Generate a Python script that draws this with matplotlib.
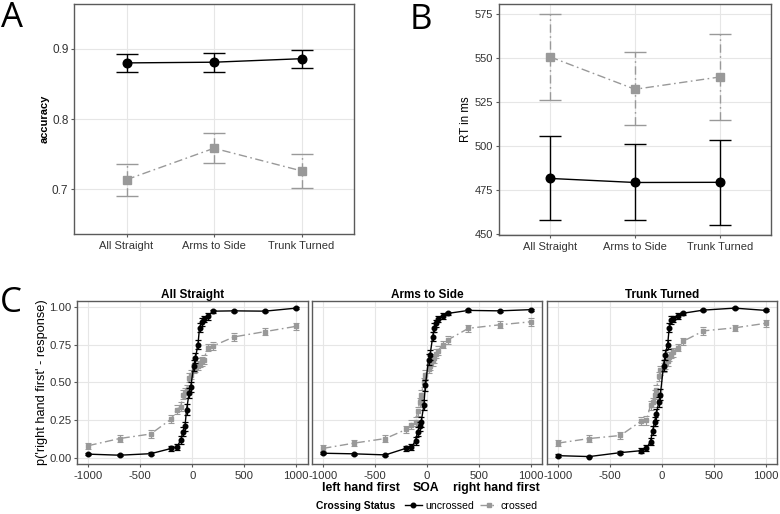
import matplotlib
matplotlib.use("Agg")
import matplotlib.pyplot as plt
from matplotlib.lines import Line2D
import numpy as np

plt.rcParams['font.family'] = ['Liberation Sans', 'DejaVu Sans']

# ---------------- data ----------------
conditions = ["All Straight", "Arms to Side", "Trunk Turned"]

# Panel A: accuracy
acc_unc = [0.880, 0.881, 0.886]
acc_unc_lo = [0.8665, 0.867, 0.8726]
acc_unc_hi = [0.892, 0.8935, 0.8986]
acc_cro = [0.7135, 0.7583, 0.726]
acc_cro_lo = [0.6905, 0.737, 0.7009]
acc_cro_hi = [0.7364, 0.7797, 0.750]

# Panel B: RT in ms
rt_unc = [481.7, 479.4, 479.5]
rt_unc_lo = [458.0, 458.2, 455.4]
rt_unc_hi = [505.7, 501.0, 503.4]
rt_cro = [550.7, 532.3, 539.3]
rt_cro_lo = [526.3, 512.2, 515.1]
rt_cro_hi = [575.2, 553.2, 563.8]

# Panel C: psychometric data
soa = [-1000, -700, -400, -200, -150, -110, -90, -70, -55, -30, -15,
       15, 30, 55, 70, 90, 110, 150, 200, 400, 700, 1000]

as_unc = [0.027, 0.020, 0.030, 0.065, 0.072, 0.12, 0.175, 0.21, 0.32, 0.43, 0.47,
          0.61, 0.66, 0.75, 0.86, 0.90, 0.92, 0.935, 0.97, 0.972, 0.97, 0.99]
as_cro = [0.083, 0.13, 0.16, 0.26, 0.32, 0.34, 0.42, 0.43, 0.45, 0.53, 0.55,
          0.59, 0.60, 0.61, 0.63, 0.64, 0.65, 0.73, 0.74, 0.80, 0.835, 0.87]
ats_unc = [0.033, 0.029, 0.022, 0.066, 0.072, 0.115, 0.175, 0.21, 0.24, 0.35, 0.48,
           0.65, 0.68, 0.80, 0.86, 0.89, 0.92, 0.94, 0.955, 0.975, 0.972, 0.98]
ats_cro = [0.065, 0.10, 0.13, 0.19, 0.22, 0.24, 0.31, 0.37, 0.42, 0.50, 0.55,
           0.59, 0.61, 0.64, 0.66, 0.69, 0.71, 0.75, 0.78, 0.857, 0.88, 0.90]
tt_unc = [0.017, 0.011, 0.037, 0.05, 0.065, 0.11, 0.18, 0.24, 0.29, 0.37, 0.42,
          0.61, 0.68, 0.75, 0.86, 0.91, 0.92, 0.94, 0.956, 0.977, 0.99, 0.975]
tt_cro = [0.10, 0.13, 0.15, 0.245, 0.25, 0.35, 0.37, 0.42, 0.45, 0.54, 0.58,
          0.60, 0.62, 0.64, 0.67, 0.69, 0.70, 0.73, 0.77, 0.84, 0.86, 0.89]

unc_err = [0.008, 0.006, 0.008, 0.015, 0.02, 0.025, 0.03, 0.03, 0.035, 0.035, 0.035,
           0.035, 0.035, 0.03, 0.03, 0.025, 0.02, 0.02, 0.01, 0.008, 0.008, 0.006]
cro_err = [0.02, 0.02, 0.025, 0.025, 0.03, 0.03, 0.03, 0.03, 0.03, 0.03, 0.03,
           0.03, 0.03, 0.03, 0.03, 0.03, 0.03, 0.025, 0.025, 0.025, 0.022, 0.025]

facet_unc = [as_unc, ats_unc, tt_unc]
facet_cro = [as_cro, ats_cro, tt_cro]

xticks_c = [-1000, -500, 0, 500, 1000]
yticks_c = [0.00, 0.25, 0.50, 0.75, 1.00]

# ---------------- style ----------------
BLACK = "black"
GREY = "#999999"
DOTDASH = (0, (6, 2.5, 1.2, 2.5))
GRID = "#e6e6e6"
SPINE = "#5a5a5a"
TICKC = "#333333"

def style_axes(ax):
    for s in ax.spines.values():
        s.set_color(SPINE)
        s.set_linewidth(1.0)
    ax.grid(True, color=GRID, lw=0.8)
    ax.set_axisbelow(True)
    ax.tick_params(colors=SPINE, labelcolor=TICKC, labelsize=8, length=2.5, width=0.8)
    ax.tick_params(axis='y', pad=1.5)
    ax.tick_params(axis='x', pad=2.5)

fig = plt.figure(figsize=(7.8, 5.14), dpi=100)
W, H = 780, 514

def rect(l, t, r, b):
    return [l / W, 1 - b / H, (r - l) / W, (b - t) / H]

xcat = np.arange(1, len(conditions) + 1)

def draw_cat(ax, unc, ulo, uhi, cro, clo, chi):
    unc = np.array(unc); cro = np.array(cro)
    e1 = ax.errorbar(xcat, cro, yerr=[cro - np.array(clo), np.array(chi) - cro],
                     color=GREY, ecolor=GREY, marker='s', ms=6, lw=1.0, ls=DOTDASH,
                     capsize=8, elinewidth=1.0, capthick=1.0, zorder=3)
    for c in e1[2]:
        c.set_linestyle(DOTDASH)
    ax.errorbar(xcat, unc, yerr=[unc - np.array(ulo), np.array(uhi) - unc],
                color=BLACK, ecolor=BLACK, marker='o', ms=6.2, lw=1.0, ls='-',
                capsize=8, elinewidth=1.0, capthick=1.0, zorder=4)
    ax.set_xlim(0.4, 3.6)
    ax.set_xticks(xcat)
    ax.set_xticklabels(conditions)
    style_axes(ax)

# Panel A
axA = fig.add_axes(rect(74, 4, 354, 234))
draw_cat(axA, acc_unc, acc_unc_lo, acc_unc_hi, acc_cro, acc_cro_lo, acc_cro_hi)
axA.set_ylim(0.636, 0.964)
axA.set_yticks([0.7, 0.8, 0.9])
axA.set_yticklabels(["0.7", "0.8", "0.9"])
axA.tick_params(axis='y', labelsize=8.5)
axA.set_ylabel("accuracy", fontsize=8, fontweight='bold', labelpad=2)

# Panel B
axB = fig.add_axes(rect(499, 4, 771, 235))
draw_cat(axB, rt_unc, rt_unc_lo, rt_unc_hi, rt_cro, rt_cro_lo, rt_cro_hi)
axB.set_ylim(449.6, 580.7)
axB.set_yticks([450, 475, 500, 525, 550, 575])
axB.set_ylabel("RT in ms", fontsize=8.3, labelpad=2)

# Panel C
lefts = [77, 311.7, 546.7]
axesC = []
for i, (cond, unc, cro) in enumerate(zip(conditions, facet_unc, facet_cro)):
    ax = fig.add_axes(rect(lefts[i], 300.7, lefts[i] + 230.5, 464))
    axesC.append(ax)
    e = ax.errorbar(soa, cro, yerr=cro_err, color=GREY, ecolor=GREY, marker='s', ms=3.3,
                    lw=1.0, ls=DOTDASH, capsize=2, elinewidth=0.8, capthick=0.8, zorder=3)
    for c in e[2]:
        c.set_linestyle(DOTDASH)
    ax.errorbar(soa, unc, yerr=unc_err, color=BLACK, ecolor=BLACK, marker='o', ms=3.3,
                lw=1.0, ls='-', capsize=2, elinewidth=0.9, capthick=0.9, zorder=4)
    ax.set_xlim(-1110, 1110)
    ax.set_ylim(-0.038, 1.039)
    ax.set_xticks(xticks_c)
    ax.set_xticklabels([str(v) for v in xticks_c])
    ax.set_yticks(yticks_c)
    style_axes(ax)
    ax.tick_params(labelsize=8.2)
    ax.set_title(cond, fontsize=8.5, fontweight='bold', pad=2)
    if i == 0:
        ax.set_yticklabels(["0.00", "0.25", "0.50", "0.75", "1.00"])
        ax.set_ylabel("p('right hand first' - response)", fontsize=9.2, labelpad=1)
    else:
        ax.tick_params(axis='y', left=False, labelleft=False)

# x-axis label for C
fig.text(400 / W, 1 - 488 / H, "left hand first", ha='right', va='center',
         fontsize=8.8, fontweight='bold')
fig.text(426 / W, 1 - 488 / H, "SOA", ha='center', va='center',
         fontsize=8.8, fontweight='bold')
fig.text(453 / W, 1 - 488 / H, "right hand first", ha='left', va='center',
         fontsize=8.8, fontweight='bold')

# legend
fig.text(316 / W, 1 - 506 / H, "Crossing Status", ha='left', va='center',
         fontsize=7.4, fontweight='bold')
handles = [Line2D([], [], color=BLACK, marker='o', ms=3.3, lw=1.0, ls='-'),
           Line2D([], [], color=GREY, marker='s', ms=3.3, lw=1.0, ls=DOTDASH)]
fig.legend(handles, ["uncrossed", "crossed"], ncol=2, frameon=False,
           loc='center left', bbox_to_anchor=(405 / W, 1 - 506 / H),
           fontsize=7.6, handlelength=1.6, handletextpad=0.3, columnspacing=0.6,
           borderpad=0, borderaxespad=0)

# panel letters
for letter, x, y in [("A", 1, 1), ("B", 410, 3), ("C", 0, 286)]:
    fig.text(x / W, 1 - y / H, letter, ha='left', va='top', fontsize=25,
             family=['Open Sans', 'DejaVu Sans'])

fig.savefig("out.png", dpi=100)
